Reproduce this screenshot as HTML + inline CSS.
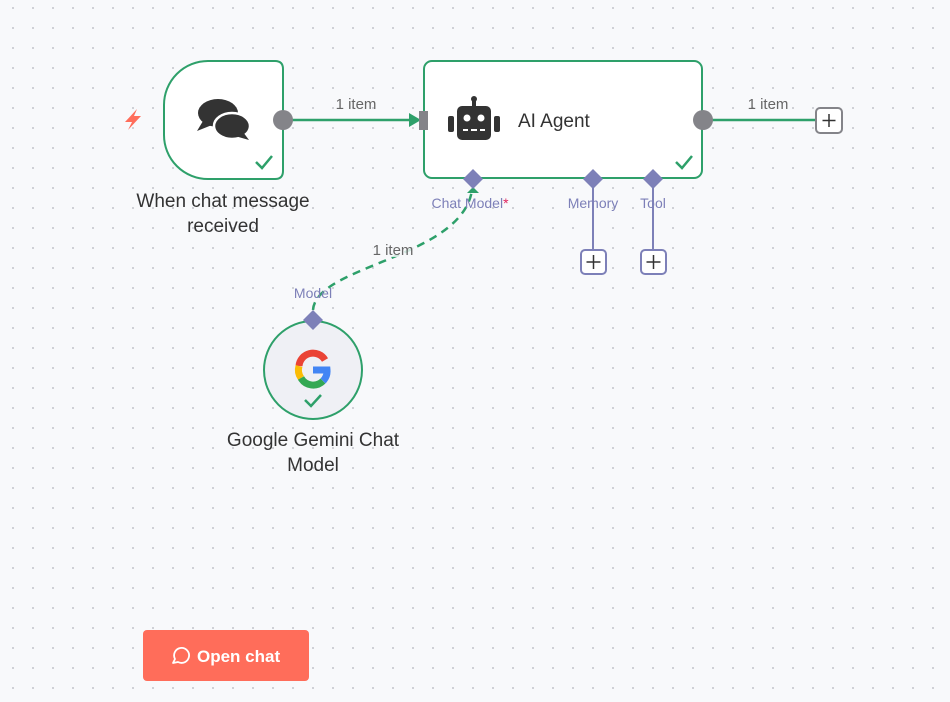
<!DOCTYPE html>
<html><head><meta charset="utf-8"><style>
html,body{margin:0;padding:0;width:950px;height:702px;overflow:hidden;background:#f8f9fb;}
body{background-image:radial-gradient(circle,#c4c6cc 0.8px,transparent 1.1px);background-size:20px 20px;background-position:3px -2px;font-family:"Liberation Sans",sans-serif;}
svg{position:absolute;left:0;top:0}
</style></head><body>
<svg width="950" height="702" viewBox="0 0 950 702" font-family="Liberation Sans, sans-serif">
<!-- lightning -->
<path d="M137,109 L125,122 L132,122 L128,130 L141,116 L134,116 Z" fill="#ff6d5a"/>
<!-- trigger node -->
<path d="M208,61 H275 Q283,61 283,69 V171 Q283,179 275,179 H208 A44,44 0 0 1 164,135 V105 A44,44 0 0 1 208,61 Z" fill="#fff" stroke="#2ea06a" stroke-width="2"/>
<!-- chat icon -->
<g fill="#333">
<ellipse cx="218" cy="113" rx="20" ry="14"/>
<path d="M203,121 L197,131 L212,125 Z"/>
<ellipse cx="232" cy="126" rx="18" ry="13" stroke="#fff" stroke-width="2.5"/>
<path d="M243,132 L249,140 L235,136 Z"/>
</g>
<path d="M256,162 L262,168 L272,156" fill="none" stroke="#2ea06a" stroke-width="2.5"/>
<text x="223" y="207" font-size="19" fill="#333" text-anchor="middle">When chat message</text>
<text x="223" y="232" font-size="19" fill="#333" text-anchor="middle">received</text>
<!-- edge 1 -->
<line x1="290" y1="120" x2="412" y2="120" stroke="#2ea06a" stroke-width="2.5"/>
<path d="M409,113 L421,120 L409,127 Z" fill="#2ea06a"/>
<text x="356" y="109" font-size="15" fill="#666" text-anchor="middle">1 item</text>
<circle cx="283" cy="120" r="10" fill="#848489"/>
<!-- agent node -->
<rect x="424" y="61" width="278" height="117" rx="8" fill="#fff" stroke="#2ea06a" stroke-width="2"/>
<rect x="419" y="111" width="9" height="19" fill="#848489"/>
<!-- robot -->
<g fill="#333">
<rect x="457" y="106" width="34" height="34" rx="5"/>
<rect x="448" y="116" width="6" height="16" rx="2"/>
<rect x="494" y="116" width="6" height="16" rx="2"/>
<rect x="472" y="99" width="4" height="8"/>
<circle cx="474" cy="99" r="3"/>
</g>
<circle cx="467" cy="118" r="3.5" fill="#fff"/><circle cx="481" cy="118" r="3.5" fill="#fff"/>
<rect x="463" y="129" width="5" height="2" fill="#fff"/><rect x="471" y="129" width="6" height="2" fill="#fff"/><rect x="480" y="129" width="5" height="2" fill="#fff"/>
<text x="518" y="127" font-size="19" fill="#333">AI Agent</text>
<path d="M676,162 L682,168 L692,156" fill="none" stroke="#2ea06a" stroke-width="2.5"/>
<!-- output -->
<line x1="710" y1="120" x2="816" y2="120" stroke="#2ea06a" stroke-width="2.5"/>
<text x="768" y="109" font-size="15" fill="#666" text-anchor="middle">1 item</text>
<circle cx="703" cy="120" r="10" fill="#848489"/>
<rect x="816" y="108" width="26" height="25" rx="4" fill="#fff" stroke="#848489" stroke-width="2"/>
<path d="M829,114 V127 M822.5,120.5 H835.5" stroke="#333" stroke-width="1.5"/>
<!-- sub connectors -->
<line x1="593" y1="186" x2="593" y2="250" stroke="#7d80b8" stroke-width="2"/>
<line x1="653" y1="186" x2="653" y2="250" stroke="#7d80b8" stroke-width="2"/>
<rect x="581" y="250" width="25" height="24" rx="4" fill="#fff" stroke="#7d80b8" stroke-width="2"/>
<path d="M593.5,255 V269 M586.5,262 H600.5" stroke="#333" stroke-width="1.5"/>
<rect x="641" y="250" width="25" height="24" rx="4" fill="#fff" stroke="#7d80b8" stroke-width="2"/>
<path d="M653.5,255 V269 M646.5,262 H660.5" stroke="#333" stroke-width="1.5"/>
<!-- dashed curve -->
<path d="M313,310 C316,265 462,258 472,190" fill="none" stroke="#2ea06a" stroke-width="2.5" stroke-dasharray="8,6"/>
<path d="M467,193 L473,187 L479,193 Z" fill="#2ea06a"/>
<rect x="370" y="241" width="46" height="16" fill="#f8f9fb" opacity="0.8"/>
<text x="393" y="255" font-size="15" fill="#666" text-anchor="middle">1 item</text>
<!-- diamonds -->
<g fill="#7d80b8">
<path d="M473,169 L483,179 L473,189 L463,179 Z"/>
<path d="M593,169 L603,179 L593,189 L583,179 Z"/>
<path d="M653,169 L663,179 L653,189 L643,179 Z"/>
</g>
<text x="470" y="208" font-size="14" fill="#7d80b8" text-anchor="middle">Chat Model<tspan fill="#e0245e">*</tspan></text>
<text x="593" y="208" font-size="14" fill="#7d80b8" text-anchor="middle">Memory</text>
<text x="653" y="208" font-size="14" fill="#7d80b8" text-anchor="middle">Tool</text>
<!-- gemini -->
<text x="313" y="298" font-size="14" fill="#7d80b8" text-anchor="middle">Model</text>
<circle cx="313" cy="370" r="49" fill="#eff0f5" stroke="#2ea06a" stroke-width="2"/>
<path d="M313,310 L323,320 L313,330 L303,320 Z" fill="#7d80b8"/>
<g fill="none" stroke-width="7">
<path d="M325,360 A14,14 0 0 0 299,366" stroke="#ea4335"/>
<path d="M299,366 A14,14 0 0 0 301,378" stroke="#fbbc05"/>
<path d="M301,378 A14,14 0 0 0 323,381" stroke="#34a853"/>
<path d="M323,381 A14,14 0 0 0 327,370 H313" stroke="#4285f4"/>
</g>
<path d="M305,400 L311,406 L321,395" fill="none" stroke="#2ea06a" stroke-width="2.5"/>
<text x="313" y="446" font-size="19" fill="#333" text-anchor="middle">Google Gemini Chat</text>
<text x="313" y="471" font-size="19" fill="#333" text-anchor="middle">Model</text>
<!-- button -->
<rect x="143" y="630" width="166" height="51" rx="4" fill="#ff6d5a"/>
<path d="M173,663 L175,659 A7.5,7.5 0 1 1 178,662 Z" fill="none" stroke="#fff" stroke-width="1.8" stroke-linejoin="round"/>
<text x="197" y="662" font-size="17" font-weight="bold" fill="#fff">Open chat</text>
</svg>
</body></html>
